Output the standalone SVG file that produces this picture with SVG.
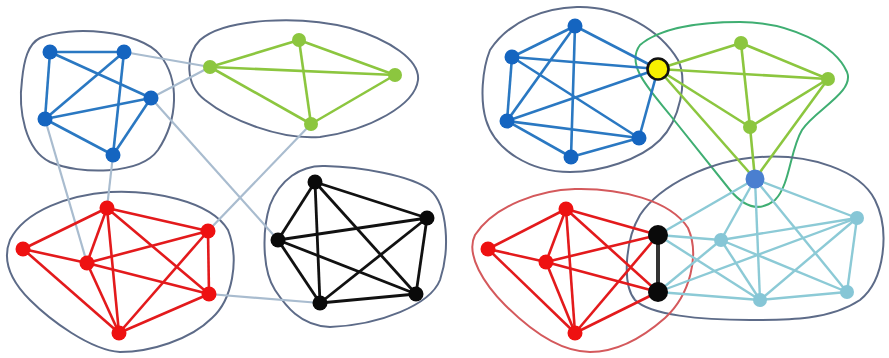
<svg xmlns="http://www.w3.org/2000/svg" width="889" height="358" viewBox="0 0 889 358">
<style>
.hull{fill:none;stroke:#5d6b88;stroke-width:2}
.hr{fill:none;stroke:#d4595c;stroke-width:2}
.hg{fill:none;stroke:#3fae72;stroke-width:2}
.eb{stroke:#2a78c2;stroke-width:2.6}
.eg{stroke:#8cc63f;stroke-width:2.6}
.er{stroke:#e31a1c;stroke-width:2.6}
.ek{stroke:#111;stroke-width:2.8}
.et{stroke:#8ccad6;stroke-width:2.4}
.ex{stroke:#a9bccf;stroke-width:2.2}
.nb{fill:#1565c0}
.ng{fill:#8cc63f}
.nr{fill:#ee1111}
.nk{fill:#0a0a0a}
.nt{fill:#86c6d6}
</style>
<rect width="889" height="358" fill="#fff"/>
<g id="hulls">
<path class="hull" d="M40,38 C70,25 140,30 160,55 C180,80 178,120 158,150 C140,175 80,175 50,162 C25,150 18,110 22,80 C24,60 28,44 40,38 Z"/>
<path class="hull" d="M200,40 C225,18 300,15 350,28 C390,40 420,60 418,80 C415,105 370,130 320,137 C280,140 230,120 205,100 C185,85 185,55 200,40 Z"/>
<path class="hull" d="M10,240 C25,210 70,195 110,192 C150,190 210,200 228,230 C240,260 232,300 212,318 C190,340 150,352 120,352 C90,350 50,320 30,300 C10,280 2,260 10,240 Z"/>
<path class="hull" d="M270,205 C280,180 300,165 325,166 C360,167 410,175 430,190 C448,205 450,250 440,280 C430,305 380,325 330,327 C300,326 285,305 275,290 C262,270 262,230 270,205 Z"/>
<path class="hull" d="M490,50 C510,20 545,8 577,7 C620,6 660,30 678,60 C688,80 680,120 660,140 C640,160 600,172 570,172 C530,172 495,150 486,120 C480,100 482,70 490,50 Z"/>
<path class="hg" d="M640,45 C660,28 700,22 740,22 C790,22 835,45 847,72 C855,92 815,110 802,130 C790,150 790,185 775,200 C760,212 745,208 730,190 C710,165 690,140 670,115 C650,90 625,65 640,45 Z"/>
<path class="hull" d="M640,215 C660,185 710,160 760,157 C810,154 860,170 875,200 C890,230 885,280 860,300 C830,320 790,320 750,320 C700,320 650,315 635,300 C622,285 625,240 640,215 Z"/>
<path class="hr" d="M475,235 C495,205 540,190 575,189 C620,188 670,200 688,228 C700,255 690,295 665,318 C640,340 615,352 590,352 C560,352 530,330 505,305 C485,285 465,255 475,235 Z"/>
</g>
<g id="connectors">
<!-- left inter-cluster -->
<line class="ex" x1="124" y1="52" x2="210" y2="67"/>
<line class="ex" x1="151" y1="98" x2="210" y2="67"/>
<line class="ex" x1="151" y1="98" x2="278" y2="240"/>
<line class="ex" x1="311" y1="124" x2="208" y2="231"/>
<line class="ex" x1="45" y1="119" x2="87" y2="263"/>
<line class="ex" x1="113" y1="155" x2="107" y2="208"/>
<line class="ex" x1="209" y1="294" x2="320" y2="303"/>
<!-- left blue -->
<line class="eb" x1="50" y1="52" x2="124" y2="52"/>
<line class="eb" x1="50" y1="52" x2="151" y2="98"/>
<line class="eb" x1="50" y1="52" x2="45" y2="119"/>
<line class="eb" x1="124" y1="52" x2="45" y2="119"/>
<line class="eb" x1="124" y1="52" x2="113" y2="155"/>
<line class="eb" x1="45" y1="119" x2="151" y2="98"/>
<line class="eb" x1="45" y1="119" x2="113" y2="155"/>
<line class="eb" x1="151" y1="98" x2="113" y2="155"/>
<!-- left green -->
<line class="eg" x1="210" y1="67" x2="299" y2="40"/>
<line class="eg" x1="210" y1="67" x2="395" y2="75"/>
<line class="eg" x1="210" y1="67" x2="311" y2="124"/>
<line class="eg" x1="299" y1="40" x2="395" y2="75"/>
<line class="eg" x1="299" y1="40" x2="311" y2="124"/>
<line class="eg" x1="395" y1="75" x2="311" y2="124"/>
<!-- left red -->
<line class="er" x1="23" y1="249" x2="107" y2="208"/>
<line class="er" x1="23" y1="249" x2="87" y2="263"/>
<line class="er" x1="23" y1="249" x2="119" y2="333"/>
<line class="er" x1="107" y1="208" x2="208" y2="231"/>
<line class="er" x1="107" y1="208" x2="87" y2="263"/>
<line class="er" x1="107" y1="208" x2="119" y2="333"/>
<line class="er" x1="107" y1="208" x2="209" y2="294"/>
<line class="er" x1="87" y1="263" x2="208" y2="231"/>
<line class="er" x1="87" y1="263" x2="209" y2="294"/>
<line class="er" x1="87" y1="263" x2="119" y2="333"/>
<line class="er" x1="208" y1="231" x2="209" y2="294"/>
<line class="er" x1="208" y1="231" x2="119" y2="333"/>
<line class="er" x1="209" y1="294" x2="119" y2="333"/>
<!-- left black -->
<line class="ek" x1="315" y1="182" x2="427" y2="218"/>
<line class="ek" x1="315" y1="182" x2="278" y2="240"/>
<line class="ek" x1="315" y1="182" x2="320" y2="303"/>
<line class="ek" x1="315" y1="182" x2="416" y2="294"/>
<line class="ek" x1="427" y1="218" x2="278" y2="240"/>
<line class="ek" x1="427" y1="218" x2="320" y2="303"/>
<line class="ek" x1="427" y1="218" x2="416" y2="294"/>
<line class="ek" x1="278" y1="240" x2="320" y2="303"/>
<line class="ek" x1="278" y1="240" x2="416" y2="294"/>
<line class="ek" x1="320" y1="303" x2="416" y2="294"/>
<!-- right blue -->
<line class="eb" x1="575" y1="26" x2="512" y2="57"/>
<line class="eb" x1="575" y1="26" x2="507" y2="121"/>
<line class="eb" x1="575" y1="26" x2="571" y2="157"/>
<line class="eb" x1="575" y1="26" x2="658" y2="69"/>
<line class="eb" x1="512" y1="57" x2="507" y2="121"/>
<line class="eb" x1="512" y1="57" x2="658" y2="69"/>
<line class="eb" x1="512" y1="57" x2="639" y2="138"/>
<line class="eb" x1="507" y1="121" x2="658" y2="69"/>
<line class="eb" x1="507" y1="121" x2="571" y2="157"/>
<line class="eb" x1="507" y1="121" x2="639" y2="138"/>
<line class="eb" x1="571" y1="157" x2="639" y2="138"/>
<line class="eb" x1="639" y1="138" x2="658" y2="69"/>
<!-- right green -->
<line class="eg" x1="658" y1="69" x2="741" y2="43"/>
<line class="eg" x1="658" y1="69" x2="828" y2="79"/>
<line class="eg" x1="658" y1="69" x2="750" y2="127"/>
<line class="eg" x1="658" y1="69" x2="755" y2="179"/>
<line class="eg" x1="741" y1="43" x2="828" y2="79"/>
<line class="eg" x1="741" y1="43" x2="750" y2="127"/>
<line class="eg" x1="828" y1="79" x2="750" y2="127"/>
<line class="eg" x1="828" y1="79" x2="755" y2="179"/>
<line class="eg" x1="750" y1="127" x2="755" y2="179"/>
<!-- right red -->
<line class="er" x1="488" y1="249" x2="566" y2="209"/>
<line class="er" x1="488" y1="249" x2="546" y2="262"/>
<line class="er" x1="488" y1="249" x2="575" y2="333"/>
<line class="er" x1="566" y1="209" x2="546" y2="262"/>
<line class="er" x1="566" y1="209" x2="575" y2="333"/>
<line class="er" x1="566" y1="209" x2="658" y2="235"/>
<line class="er" x1="566" y1="209" x2="658" y2="292"/>
<line class="er" x1="546" y1="262" x2="658" y2="235"/>
<line class="er" x1="546" y1="262" x2="658" y2="292"/>
<line class="er" x1="546" y1="262" x2="575" y2="333"/>
<line class="er" x1="575" y1="333" x2="658" y2="235"/>
<line class="er" x1="575" y1="333" x2="658" y2="292"/>
<!-- right teal -->
<line class="et" x1="755" y1="179" x2="658" y2="235"/>
<line class="et" x1="755" y1="179" x2="721" y2="240"/>
<line class="et" x1="755" y1="179" x2="760" y2="300"/>
<line class="et" x1="755" y1="179" x2="857" y2="218"/>
<line class="et" x1="755" y1="179" x2="847" y2="292"/>
<line class="et" x1="658" y1="235" x2="721" y2="240"/>
<line class="et" x1="658" y1="235" x2="760" y2="300"/>
<line class="et" x1="658" y1="292" x2="721" y2="240"/>
<line class="et" x1="658" y1="292" x2="857" y2="218"/>
<line class="et" x1="658" y1="292" x2="760" y2="300"/>
<line class="et" x1="721" y1="240" x2="857" y2="218"/>
<line class="et" x1="721" y1="240" x2="847" y2="292"/>
<line class="et" x1="721" y1="240" x2="760" y2="300"/>
<line class="et" x1="857" y1="218" x2="847" y2="292"/>
<line class="et" x1="857" y1="218" x2="760" y2="300"/>
<line class="et" x1="760" y1="300" x2="847" y2="292"/>
<line stroke="#333" stroke-width="4" x1="658" y1="235" x2="658" y2="292"/>
</g>
<g id="left-blue">
<circle class="nb" cx="50" cy="52" r="7.5"/><circle class="nb" cx="124" cy="52" r="7.5"/><circle class="nb" cx="151" cy="98" r="7.5"/><circle class="nb" cx="45" cy="119" r="7.5"/><circle class="nb" cx="113" cy="155" r="7.5"/>
</g>
<g id="left-green">
<circle class="ng" cx="210" cy="67" r="7"/><circle class="ng" cx="299" cy="40" r="7"/><circle class="ng" cx="395" cy="75" r="7"/><circle class="ng" cx="311" cy="124" r="7"/>
</g>
<g id="left-red">
<circle class="nr" cx="23" cy="249" r="7.5"/><circle class="nr" cx="107" cy="208" r="7.5"/><circle class="nr" cx="208" cy="231" r="7.5"/><circle class="nr" cx="87" cy="263" r="7.5"/><circle class="nr" cx="209" cy="294" r="7.5"/><circle class="nr" cx="119" cy="333" r="7.5"/>
</g>
<g id="left-black">
<circle class="nk" cx="315" cy="182" r="7.5"/><circle class="nk" cx="427" cy="218" r="7.5"/><circle class="nk" cx="278" cy="240" r="7.5"/><circle class="nk" cx="320" cy="303" r="7.5"/><circle class="nk" cx="416" cy="294" r="7.5"/>
</g>
<g id="right-blue">
<circle class="nb" cx="575" cy="26" r="7.5"/><circle class="nb" cx="512" cy="57" r="7.5"/><circle class="nb" cx="507" cy="121" r="7.5"/><circle class="nb" cx="571" cy="157" r="7.5"/><circle class="nb" cx="639" cy="138" r="7.5"/>
</g>
<g id="right-green">
<circle class="ng" cx="741" cy="43" r="7"/><circle class="ng" cx="828" cy="79" r="7"/><circle class="ng" cx="750" cy="127" r="7"/>
</g>
<g id="right-red">
<circle class="nr" cx="488" cy="249" r="7.5"/><circle class="nr" cx="566" cy="209" r="7.5"/><circle class="nr" cx="546" cy="262" r="7.5"/><circle class="nr" cx="575" cy="333" r="7.5"/>
</g>
<g id="right-teal">
<circle class="nt" cx="721" cy="240" r="7"/><circle class="nt" cx="857" cy="218" r="7"/><circle class="nt" cx="760" cy="300" r="7"/><circle class="nt" cx="847" cy="292" r="7"/>
</g>
<g id="shared-black">
<circle class="nk" cx="658" cy="235" r="10"/><circle class="nk" cx="658" cy="292" r="10"/>
</g>
<g id="shared-blue">
<circle cx="755" cy="179" r="9.5" fill="#4a7fd0"/>
</g>
<g id="shared-yellow">
<circle cx="658" cy="69" r="10.5" fill="#f8f000" stroke="#111" stroke-width="2.6"/>
</g>
</svg>
